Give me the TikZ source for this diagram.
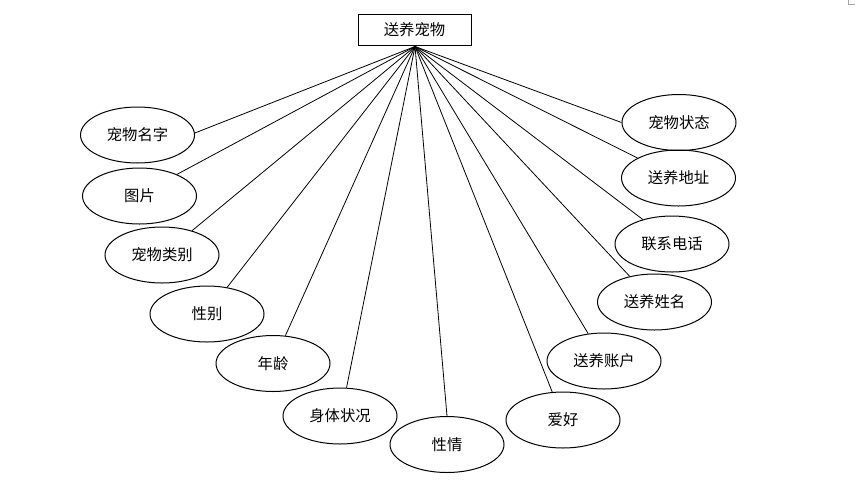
\documentclass[tikz,border=0pt]{standalone}
\usepackage{fontspec}
\newfontfamily\cjk{Noto Sans CJK SC}
\usetikzlibrary{shapes.geometric}
\begin{document}
\begin{tikzpicture}[x=0.75pt,y=-0.75pt,
  attr/.style={draw,ellipse,line width=0.75pt,minimum width=85.5pt,minimum height=42pt,inner sep=0pt,font=\cjk\fontsize{11.5}{13}\selectfont},
  ent/.style={draw,rectangle,line width=0.75pt,minimum width=84.75pt,minimum height=23.25pt,inner sep=0pt,font=\cjk\fontsize{11.5}{13}\selectfont},
  link/.style={line width=0.6pt}]
\useasboundingbox (0,0) rectangle (855,486);
\draw[gray!70,line width=0.6pt] (848.3,0) -- (848.3,4) -- (855,4);
\node[ent] (top) at (414.5,29.5) {送养宠物};
\coordinate (apex) at (415,46.5);
\node[attr] (a1) at (137.5,135) {宠物名字};
\node[attr] (a2) at (139.5,196) {图片};
\node[attr] (a3) at (162,255) {宠物类别};
\node[attr] (a4) at (207,314) {性别};
\node[attr] (a5) at (273,363.5) {年龄};
\node[attr] (a6) at (340,416) {身体状况};
\node[attr] (a7) at (447,444.5) {性情};
\node[attr] (a8) at (563,420) {爱好};
\node[attr] (a9) at (604,361) {送养账户};
\node[attr] (a10) at (654.5,302) {送养姓名};
\node[attr] (a11) at (672,244) {联系电话};
\node[attr] (a12) at (678.5,178) {送养地址};
\node[attr] (a13) at (679,122.5) {宠物状态};
\draw[link] (apex) -- (a1.2);
\draw[link] (apex) -- (a2.30);
\draw[link] (apex) -- (a3.39);
\draw[link] (apex) -- (a4.53);
\draw[link] (apex) -- (a5.66);
\draw[link] (apex) -- (a6.77);
\draw[link] (apex) -- (a7.90);
\draw[link] (apex) -- (a8.111);
\draw[link] (apex) -- (a9.120);
\draw[link] (apex) -- (a10.134);
\draw[link] (apex) -- (a11.140);
\draw[link] (apex) -- (a12.154);
\draw[link] (apex) -- (a13.180);
\end{tikzpicture}
\end{document}
